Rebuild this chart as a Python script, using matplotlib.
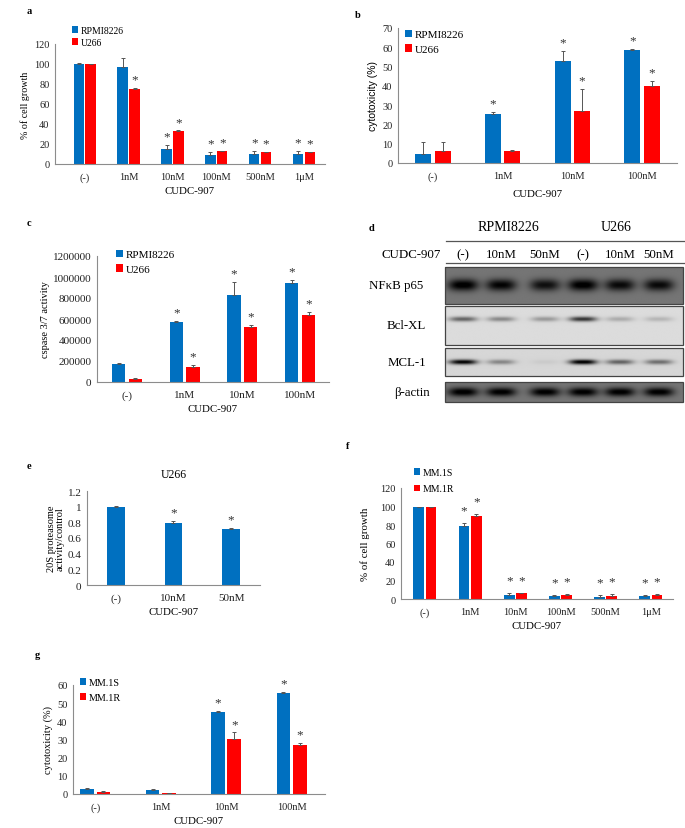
import matplotlib
matplotlib.use('Agg')
import matplotlib.pyplot as plt
import numpy as np
from matplotlib.patches import Rectangle

plt.rcParams['font.family'] = ['Liberation Serif', 'DejaVu Serif']

W, H = 685, 829
AZUL = '#0070C0'
VERMELHO = '#FF0000'
EIXO = '#8c8c8c'
ERRO = '#555555'

# painel a
A_CATS = ['(-)', '1nM', '10nM', '100nM', '500nM', '1μM']
A_RPMI = [100, 97, 15, 9, 10, 10]
A_RPMI_ERR = [0.6, 9, 4.5, 3.5, 3.5, 3.5]
A_U266 = [100, 75.5, 33, 13, 12, 12]
A_U266_ERR = [0.4, 0.6, 0.6, 0.5, 0.5, 0.5]
A_RPMI_SIG = [0, 0, 1, 1, 1, 1]
A_U266_SIG = [0, 1, 1, 1, 1, 1]

# painel b
B_CATS = ['(-)', '1nM', '10nM', '100nM']
B_RPMI = [4.8, 25.6, 52.7, 58.8]
B_RPMI_ERR = [6.1, 0.8, 5.2, 0.3]
B_U266 = [6.0, 6.0, 27.0, 39.9]
B_U266_ERR = [4.9, 0.9, 11.5, 2.6]
B_RPMI_SIG = [0, 1, 1, 1]
B_U266_SIG = [0, 0, 1, 1]

# painel c
C_CATS = ['(-)', '1nM', '10nM', '100nM']
C_RPMI = [169000, 574000, 833000, 945000]
C_RPMI_ERR = [16000, 10000, 118000, 28000]
C_U266 = [25500, 147000, 527000, 641000]
C_U266_ERR = [9500, 16000, 16000, 23000]
C_RPMI_SIG = [0, 1, 1, 1]
C_U266_SIG = [0, 1, 1, 1]

# painel d (western blot)
D_CELLS = ['RPMI8226', 'U266']
D_LANES = ['(-)', '10nM', '50nM', '(-)', '10nM', '50nM']
D_ROWS = ['NFκB p65', 'Bcl-XL', 'MCL-1', 'β-actin']
D_BANDS = [
    [0.97, 0.90, 0.80, 0.97, 0.85, 0.85],
    [0.50, 0.35, 0.28, 0.70, 0.20, 0.16],
    [0.92, 0.35, 0.05, 0.95, 0.50, 0.45],
    [0.97, 0.95, 0.95, 0.95, 0.95, 0.95],
]

# painel e
E_CATS = ['(-)', '10nM', '50nM']
E_U266 = [1.0, 0.79, 0.71]
E_U266_ERR = [0.006, 0.03, 0.02]
E_U266_SIG = [0, 1, 1]

# painel f
F_CATS = ['(-)', '1nM', '10nM', '100nM', '500nM', '1μM']
F_MM1S = [99.5, 78.8, 4.7, 3.6, 2.5, 3.6]
F_MM1S_ERR = [0.4, 3.6, 1.8, 1.1, 1.8, 1.1]
F_MM1R = [99.5, 89.3, 6.1, 4.7, 3.6, 4.7]
F_MM1R_ERR = [0.4, 2.1, 0.4, 0.4, 1.4, 0.7]
F_MM1S_SIG = [0, 1, 1, 1, 1, 1]
F_MM1R_SIG = [0, 1, 1, 1, 1, 1]

# painel g
G_CATS = ['(-)', '1nM', '10nM', '100nM']
G_MM1S = [2.8, 2.2, 45.3, 55.8]
G_MM1S_ERR = [0.4, 0.4, 0.4, 0.4]
G_MM1R = [1.3, 0.4, 30.3, 27.0]
G_MM1R_ERR = [0.5, 0.1, 3.6, 0.9]
G_MM1S_SIG = [0, 0, 1, 1]
G_MM1R_SIG = [0, 0, 1, 1]


def px_axes(fig, x0, y0, x1, y1):
    """Cria eixo a partir de coordenadas em pixels (origem no topo)"""
    return fig.add_axes([x0 / W, 1 - y1 / H, (x1 - x0) / W, (y1 - y0) / H])


def barras(ax, cats, series, largura=0.23, desloc=0.14, estrela_pt=4.0, tick_fs=7.5):
    """series: lista de (valores, erros, sig, cor, rotulo)"""
    x = np.arange(len(cats))
    n = len(series)
    for i, (vals, errs, sig, cor, rot) in enumerate(series):
        pos = x + (i - (n - 1) / 2) * desloc * 2 if n > 1 else x
        ax.bar(pos, vals, width=largura, color=cor, label=rot, zorder=2)
        ax.errorbar(pos, vals, yerr=[np.zeros(len(vals)), errs], fmt='none',
                    ecolor=ERRO, elinewidth=0.7, capsize=1.3, capthick=0.7, zorder=3)
        for p, v, e, s in zip(pos, vals, errs, sig):
            if s:
                ax.annotate('*', (p, v + e), xytext=(0, estrela_pt), textcoords='offset points',
                            ha='center', va='baseline', fontsize=9.5, color='#333333')
    ax.set_xticks(x)
    ax.set_xticklabels(cats)
    for lado in ['top', 'right']:
        ax.spines[lado].set_visible(False)
    for lado in ['left', 'bottom']:
        ax.spines[lado].set_color(EIXO)
        ax.spines[lado].set_linewidth(0.8)
    ax.tick_params(length=0, labelsize=tick_fs, colors='#222222')
    ax.tick_params(axis='x', pad=6)
    ax.tick_params(axis='y', pad=4)
    ax.set_xlabel('CUDC-907', fontsize=7.8, labelpad=3)


def legenda(fig, ax, x, y, fonte, espaco):
    h, l = ax.get_legend_handles_labels()
    ax.legend(h, l, loc='upper left', bbox_to_anchor=(x / W, 1 - y / H),
              bbox_transform=fig.transFigure, frameon=False, fontsize=fonte,
              handlelength=0.6, handleheight=0.6, handletextpad=0.3,
              borderpad=0, borderaxespad=0, labelspacing=espaco)


fig = plt.figure(figsize=(W / 100, H / 100), dpi=100)

# a
ax = px_axes(fig, 55, 45, 325, 165)
barras(ax, A_CATS, [(A_RPMI, A_RPMI_ERR, A_RPMI_SIG, AZUL, 'RPMI8226'),
                    (A_U266, A_U266_ERR, A_U266_SIG, VERMELHO, 'U266')], largura=0.24, desloc=0.135)
ax.set_xlim(-0.68, 5.48)
ax.set_ylim(0, 120)
ax.set_yticks(range(0, 121, 20))
ax.set_ylabel('% of cell growth', fontsize=7.2, labelpad=3)
legenda(fig, ax, 72, 27, 7, 0.3)
fig.text(27 / W, 1 - 12 / H, 'a', fontsize=7.5, fontweight='bold', va='center')

# b
ax = px_axes(fig, 398, 29, 677, 164)
barras(ax, B_CATS, [(B_RPMI, B_RPMI_ERR, B_RPMI_SIG, AZUL, 'RPMI8226'),
                    (B_U266, B_U266_ERR, B_U266_SIG, VERMELHO, 'U266')], largura=0.23, desloc=0.14)
ax.set_xlim(-0.5, 3.5)
ax.set_ylim(0, 70)
ax.set_yticks(range(0, 71, 10))
ax.set_ylabel('cytotoxicity (%)', fontsize=7.5, labelpad=3, family=['Liberation Sans', 'DejaVu Sans'])
ax.xaxis.labelpad = 6
legenda(fig, ax, 405, 31, 8, 0.45)
fig.text(355 / W, 1 - 15 / H, 'b', fontsize=7.5, fontweight='bold', va='center')

# c
ax = px_axes(fig, 97, 257, 329, 383)
barras(ax, C_CATS, [(C_RPMI, C_RPMI_ERR, C_RPMI_SIG, AZUL, 'RPMI8226'),
                    (C_U266, C_U266_ERR, C_U266_SIG, VERMELHO, 'U266')], largura=0.23, desloc=0.145,
       tick_fs=8)
ax.set_xlim(-0.52, 3.5)
ax.set_ylim(0, 1200000)
ax.set_yticks(range(0, 1200001, 200000))
ax.set_yticklabels([str(v) for v in range(0, 1200001, 200000)])
ax.set_ylabel('cspase 3/7 activity', fontsize=7.5, labelpad=2)
legenda(fig, ax, 116, 251, 8, 0.45)
fig.text(27 / W, 1 - 224 / H, 'c', fontsize=7.5, fontweight='bold', va='center')

# d - western blot
axd = px_axes(fig, 340, 200, 685, 410)
axd.axis('off')
lanes_x = [463, 501, 545, 583, 620, 659]
axd.text(369, 229, 'd', fontsize=7.5, fontweight='bold', va='center')
for nome, xc in zip(D_CELLS, [508, 616]):
    axd.text(xc, 228, nome, fontsize=10, ha='center', va='center')
axd.plot([446, 684], [242, 242], color='#555555', lw=0.9)
axd.plot([446, 684], [264, 264], color='#555555', lw=0.9)
axd.text(411, 255, 'CUDC-907', fontsize=9.3, ha='center', va='center')
for lab, xc in zip(D_LANES, lanes_x):
    axd.text(xc, 255, lab, fontsize=9.3, ha='center', va='center')

caixas = [(268, 305, 0.46, 286, 12, 15), (307, 346, 0.86, 320, 5, 14),
          (349, 377, 0.84, 363, 5, 14), (383, 403, 0.46, 393, 9, 15)]
rot_x = [396, 406, 407, 412]
for (y0, y1, fundo, yb, alt, meia), bandas, rot, rx in zip(caixas, D_BANDS, D_ROWS, rot_x):
    xs = np.linspace(445, 683, 480)
    ys = np.linspace(y0, y1, 80)
    XX, YY = np.meshgrid(xs, ys)
    img = np.full(XX.shape, fundo)
    for xc, amp in zip(lanes_x, bandas):
        perfil = np.exp(-np.abs((XX - xc) / meia) ** 3) * np.exp(-((YY - yb) / (alt / 2)) ** 2)
        img = img - amp * fundo * perfil * 1.1
    img = np.clip(img, 0, 1)
    axd.imshow(img, extent=(445, 683, y1, y0), cmap='gray', vmin=0, vmax=1,
               aspect='auto', interpolation='bilinear', zorder=1)
    axd.add_patch(Rectangle((445, y0), 238, y1 - y0, fill=False, ec='#444444', lw=0.9, zorder=2))
    axd.text(rx, (y0 + y1) / 2, rot, fontsize=9.3, ha='center', va='center')
axd.set_xlim(340, 685)
axd.set_ylim(410, 200)

# e
ax = px_axes(fig, 87, 492, 260, 586)
barras(ax, E_CATS, [(E_U266, E_U266_ERR, E_U266_SIG, AZUL, 'U266')], largura=0.31, tick_fs=8)
ax.set_xlim(-0.5, 2.5)
ax.set_ylim(0, 1.2)
ax.set_yticks(np.arange(0, 1.21, 0.2))
ax.set_yticklabels(['0', '0.2', '0.4', '0.6', '0.8', '1', '1.2'])
ax.set_ylabel('20S proteasome\nactivity/control', fontsize=7.5, labelpad=2, linespacing=1.0)
ax.set_title('U266', fontsize=8.5, pad=10)
fig.text(27 / W, 1 - 467 / H, 'e', fontsize=7.5, fontweight='bold', va='center')

# f
ax = px_axes(fig, 401, 489, 673, 600)
barras(ax, F_CATS, [(F_MM1S, F_MM1S_ERR, F_MM1S_SIG, AZUL, 'MM.1S'),
                    (F_MM1R, F_MM1R_ERR, F_MM1R_SIG, VERMELHO, 'MM.1R')], largura=0.24, desloc=0.135,
       estrela_pt=7)
ax.set_xlim(-0.53, 5.49)
ax.set_ylim(0, 120)
ax.set_yticks(range(0, 121, 20))
ax.set_ylabel('% of cell growth', fontsize=7.8, labelpad=7)
legenda(fig, ax, 414, 469, 7, 0.75)
fig.text(346 / W, 1 - 447 / H, 'f', fontsize=7.5, fontweight='bold', va='center')

# g
ax = px_axes(fig, 73, 686, 325, 795)
barras(ax, G_CATS, [(G_MM1S, G_MM1S_ERR, G_MM1S_SIG, AZUL, 'MM.1S'),
                    (G_MM1R, G_MM1R_ERR, G_MM1R_SIG, VERMELHO, 'MM.1R')], largura=0.21, desloc=0.125)
ax.set_xlim(-0.34, 3.51)
ax.set_ylim(0, 60)
ax.set_yticks(range(0, 61, 10))
ax.set_ylabel('cytotoxicity (%)', fontsize=7.5, labelpad=3)
legenda(fig, ax, 80, 679, 7.3, 0.6)
fig.text(35 / W, 1 - 655 / H, 'g', fontsize=7.5, fontweight='bold', va='center')

fig.savefig('out.png', dpi=100)
plt.close(fig)
